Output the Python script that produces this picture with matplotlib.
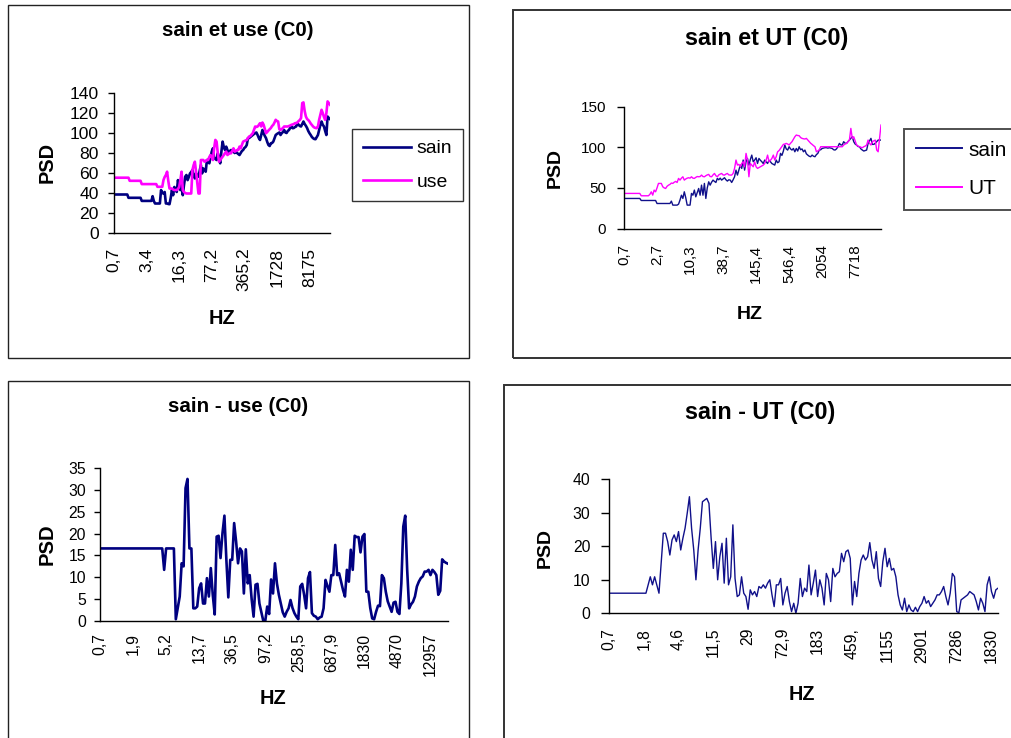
import matplotlib
matplotlib.use("Agg")
import matplotlib.pyplot as plt
from matplotlib.patches import Rectangle

plt.rcParams['font.family'] = ['Liberation Sans', 'DejaVu Sans']

W, H = 1011, 738

# ---------------- data ----------------
# Panel 1 : sain et use (C0)
p1_ticklabels = ["0,7", "3,4", "16,3", "77,2", "365,2", "1728", "8175"]
p1_sain = ([38.5] * 12 + [35.2] * 11 + [32.1] * 9 + [36.8, 32] + [29.5] * 5 +
           [42.9, 40, 39.5, 41, 29.5, 29.5, 29, 28.8, 35, 42.9, 37.8, 46.0, 43, 41.0, 52.9, 47, 42.9, 49.6, 37.8, 48,
            56.3, 58.0, 52.9, 56, 59.6, 61, 63.0, 58, 54.6, 59.6, 58, 56.3, 62, 68.0, 59.6, 64.6, 63, 61.3, 73.0, 71,
            69.7, 76, 81.4, 84.7, 74.7, 74, 73.0, 79.7, 75, 69.7, 81.4, 91.4, 86, 83.0, 86.4, 83, 80.4, 82, 83.0, 82,
            81.4, 80, 81.4, 80, 79, 78.0, 80, 82, 83.0, 85, 86, 88.0, 94.8, 95, 96, 97.1, 98, 99, 99.8, 100.5,
            98.0, 95, 93.0, 98.0, 103.0, 99.8, 97, 94.8, 91, 88.0, 87.0, 89.7, 90, 91.4, 94.8, 98.0, 99, 99.8, 100.5, 98.0,
            99.8, 101, 103.0, 100.5, 100, 102, 103.0, 105, 106.5, 104.8, 105, 106, 106.5, 109.8, 108.2, 107, 106.5, 109, 111.5, 109,
            107.2, 105, 102, 99.8, 98, 96, 94.8, 94, 93.8, 96, 98.0, 103.0, 108, 111.5, 108.2, 106.5, 102, 98.0, 116.5, 115,
            113.9])
p1_use = ([55.3] * 13 + [52.2] * 10 + [48.9] * 13 + [46.2] * 5 +
          [52.9, 56, 58, 61.3, 52, 44.5, 44.5, 44.5, 43.5, 42.9, 42.9, 43, 44, 46, 52.9, 61.3, 42.9, 41, 40,
           39.5, 39.5, 39.5, 39.5, 39.5, 63.0, 68, 71.3, 61.3, 50, 39.5, 39.5, 73.0, 73, 73.0, 71.3, 72, 73, 73.0, 76,
           78.0, 76, 73.0, 85, 93.1, 91.4, 80, 71.3, 73, 74.7, 76.4, 78, 80, 81.4, 78.0, 79, 80, 79.7, 82, 84.7,
           81.4, 82, 83, 83.0, 86.4, 84.7, 88, 91.4, 92, 92.5, 93.1, 95, 96.5, 97, 98.5, 99.8, 103, 106.5, 106, 106.5,
           108, 109.8, 106.5, 110.5, 108.2, 104, 99.8, 101, 102.5, 103.8, 105, 107, 108.2, 110.5, 113.2, 112, 111.5, 103.8, 103.0, 104,
           105, 106.5, 106.5, 106.5, 106.5, 107, 107.5, 108.2, 108.5, 109, 109.8, 110, 110.5, 112, 113, 114.9, 129.9, 130.6, 122, 116.5,
           114, 113, 111.5, 109.5, 108, 106.5, 105.5, 105, 104.8, 106.5, 113.2, 118, 123.2, 119.9, 116, 113.2, 119.9, 131.6, 130.0, 128.3])

# Panel 2 : sain et UT (C0)
p2_ticklabels = ["0,7", "2,7", "10,3", "38,7", "145,4", "546,4", "2054", "7718"]
p2_sain = ([37.0] * 12 + [34.5] * 11 + [30.8] * 10 + [33.7] + [28.8] * 4 +
           [30, 35.0, 41.0, 37.0, 45.2, 38, 28.8, 28.8, 28.8, 43.2, 41.0, 47.3, 39.0, 44, 49.3, 41.0, 53.4, 41.0, 55.5, 37.0,
            50, 57.5, 53.4, 57, 59.6, 58, 56.7, 61.7, 60, 62, 59.6, 61, 62.5, 60, 58.4, 60, 59.6, 56.7, 60, 63.7,
            71.9, 65.8, 72, 78.1, 74.0, 84.3, 71.9, 82.2, 86.3, 78.1, 85, 90.4, 82.2, 84.3, 87.1, 80.1, 86.3, 84, 82.2, 80,
            84.3, 82, 80.1, 84, 82.2, 80, 79, 78.1, 84.3, 81, 82.2, 92.5, 90, 95.4, 102.8, 98, 96.6, 100.7, 98, 96.6,
            98.6, 94.5, 98.6, 95.4, 100.7, 97, 98, 94.5, 96.6, 92, 90.4, 89, 88.4, 90.4, 89, 88.4, 91, 92.5, 96.6, 97,
            98.6, 99, 99.5, 99.5, 99, 99.5, 99, 98.6, 97, 96.6, 98, 100.7, 104.8, 103, 102.8, 106.9, 105, 104.8, 107, 108.9,
            111.0, 113.0, 106.9, 104, 102.8, 101, 100.7, 98, 96.6, 95.4, 96, 96.6, 104.8, 108, 111.0, 103.6, 103.6, 105, 106.9, 108.9,
            108.9, 108.9])
p2_ut = ([43.2] * 12 + [40.3] * 6 +
         [42.0, 45.2, 41.1, 47.3, 45.2, 50, 55.5, 55.5, 55.5, 51.4, 50, 49.3, 52, 53.4, 54.3, 56, 55.5, 57, 58, 56.7,
          61.7, 59.6, 62, 63.7, 59.6, 61, 62, 62.5, 62, 63.7, 62, 61.7, 63, 64, 63.7, 64, 65.8, 64, 63.7, 65,
          66, 66.6, 64, 63.7, 66, 67.8, 65, 63.7, 66, 67, 67.8, 66, 65.8, 67, 67.8, 66, 65.8, 65.8, 67.8, 74.0,
          84.3, 78.1, 79, 76.0, 80, 82.2, 76.0, 92.5, 84.3, 63.7, 80.1, 78, 76.0, 82.2, 76.0, 74.0, 75, 76.0, 77, 78.1,
          80, 84.3, 90.4, 82.2, 84, 86.3, 90.4, 84.3, 88.4, 94.5, 96, 98.6, 101, 103.6, 104, 104.8, 104, 102.8, 105, 106.9,
          110, 113.0, 115.1, 114.5, 114.3, 112, 111.0, 110.5, 110.2, 111.0, 109, 106.9, 105, 103.6, 102, 100.7, 94.5, 95.5, 96.6, 100.7,
          100.7, 100.7, 100.7, 100.7, 100.7, 100.7, 100.7, 100.7, 100.7, 100.7, 100.7, 100.7, 100.7, 100.7, 100.7, 102.8, 104, 104.8, 107,
          108.9, 123.3, 111.0, 113.0, 108, 102.8, 101.5, 100.7, 100, 99.5, 100.7, 101.5, 102.8, 108.9, 105, 102.8, 106.9, 108, 108.9, 96.6,
          94.5, 111.0, 127.4])

# Panel 3 : sain - use (C0)
p3_ticklabels = ["0,7", "1,9", "5,2", "13,7", "36,5", "97,2", "258,5", "687,9", "1830", "4870", "12957"]
p3_diff = ([16.6] * 33 + [11.7] + [16.6] * 5 +
           [0.4, 3, 5.6, 13.2, 12.5, 30.4, 32.5, 16.6, 16.6, 2.9, 2.9, 3.3, 7.5, 8.6, 4, 4, 9.8, 5.6, 12.1, 6,
            1.5, 19.3, 19.5, 14.4, 20.1, 24.1, 14, 5.4, 14, 14, 22.4, 18.2, 13.2, 16.6, 15.9, 6.3, 16.4, 8.6, 10.5, 5,
            1, 8.3, 8.5, 4, 2, 0, 0, 3.3, 1.6, 9.5, 6.3, 13.2, 8.6, 6, 4, 2, 1, 2.1, 2.9, 4.8,
            3, 1.8, 1, 0.4, 7.9, 8.5, 6, 2.9, 9.8, 11.2, 1.8, 1.2, 1, 0.4, 0.8, 1, 2.9, 9.4, 8, 6.7,
            10.5, 10.5, 17.4, 10.5, 10.9, 9, 7.1, 5.6, 11.7, 9, 16.3, 11.7, 19.5, 19.2, 19.2, 15.7, 19.3, 19.9, 6.7, 6.7,
            3, 0.6, 0.4, 2.1, 3.5, 3.4, 10.5, 9.8, 6.7, 4.5, 3.3, 2.1, 4.2, 4.4, 2.1, 1.6, 8.6, 21.6, 24.1, 11.7,
            2.9, 3.8, 4.4, 5.6, 7.9, 9, 9.8, 10.2, 11.3, 11.3, 11.7, 10.5, 11.7, 11.2, 10.5, 6, 6.9, 14.1, 13.6, 13.3,
            13.1])

# Panel 4 : sain - UT (C0)
p4_ticklabels = ["0,7", "1,8", "4,6", "11,5", "29", "72,9", "183", "459,", "1155", "2901", "7286", "1830"]
p4_diff = ([6.0] * 18 +
           [8.5, 10.9, 8.5, 10.9, 8.5, 6.0, 14.9, 23.9, 23.9, 21.4, 17.4, 21.9, 23.4, 21.4, 24.4, 18.9, 22.4, 25.4, 29.9, 34.8,
            25.4, 18.9, 10.0, 18.9, 25.4, 33.3, 33.8, 34.3, 32.8, 22.4, 13.4, 21.4, 10.0, 16.9, 20.9, 9.0, 22.4, 8.5, 10.9, 26.4,
            10.4, 5.0, 5.5, 10.9, 6.0, 5.0, 1.2, 7.0, 5.5, 6.5, 5.0, 8.0, 7.5, 8.5, 7.5, 9.0, 10.0, 5.5, 2.0, 8.5,
            8.5, 10.4, 2.5, 6.0, 8.0, 3.5, 0.5, 3.0, 0.0, 3.0, 10.4, 5.0, 7.5, 6.5, 14.4, 5.5, 9.0, 12.9, 5.0, 10.0,
            7.5, 2.5, 11.9, 10.0, 3.5, 13.4, 10.9, 11.9, 12.4, 17.9, 15.4, 18.4, 18.9, 16.4, 2.5, 9.5, 5.0, 11.9, 15.9, 17.4,
            15.9, 16.9, 21.1, 15.9, 13.4, 18.4, 10.4, 8.0, 15.4, 19.4, 13.9, 16.4, 12.9, 13.4, 10.9, 5.5, 2.5, 1.0, 4.5, 0.5,
            2.5, 1.0, 0.5, 1.8, 0.5, 2.0, 3.0, 5.0, 3.0, 3.8, 2.0, 3.0, 4.0, 5.5, 5.5, 6.5, 8.0, 5.0, 2.5, 6.0,
            11.9, 10.9, 0.5, 0.2, 4.0, 4.5, 5.0, 5.5, 6.5, 6.0, 5.5, 3.5, 1.0, 4.5, 3.0, 0.5, 8.5, 10.9, 6.5, 4.5,
            7.0, 7.5])

NAVY = "#000080"
MAGENTA = "#FF00FF"
N_CAT = 180

fig = plt.figure(figsize=(W / 100, H / 100), dpi=100)
fig.patch.set_facecolor("white")


def fx(px):
    return px / W


def fy(py):
    return 1 - py / H


def make_axes(x0, x1, ytop, ybot):
    return fig.add_axes([fx(x0), fy(ybot), (x1 - x0) / W, (ybot - ytop) / H])


def style(ax, step, labels, yticks, tsize, pad_x, pad_y, tlen):
    ax.set_xlim(0, N_CAT - 1)
    ax.set_ylim(yticks[0], yticks[-1])
    ax.set_yticks(yticks)
    ax.set_xticks([k * step for k in range(len(labels))])
    ax.set_xticklabels(labels, rotation=90)
    for s in ("top", "right"):
        ax.spines[s].set_visible(False)
    for s in ("left", "bottom"):
        ax.spines[s].set_linewidth(1.0)
        ax.spines[s].set_color("black")
    ax.tick_params(axis="x", length=0, pad=pad_x, labelsize=tsize)
    ax.tick_params(axis="y", length=tlen, width=1.0, pad=pad_y, labelsize=tsize, direction="out")
    ax.set_facecolor("none")


def series(ax, values, **kw):
    ax.plot(list(range(len(values))), values, **kw)


# chart area borders
for (x0, y0, x1, y1, lw, col) in [(8, 5, 469, 358, 1.0, "#222222"),
                                  (513, 10, 1030, 358, 1.4, "#333333"),
                                  (8, 381, 469, 760, 1.0, "#222222"),
                                  (504, 385, 1030, 760, 1.4, "#333333")]:
    fig.patches.append(Rectangle((fx(x0), fy(y1)), (x1 - x0) / W, (y1 - y0) / H,
                                 transform=fig.transFigure, fill=False,
                                 edgecolor=col, linewidth=lw))

# ---- panel 1
ax1 = make_axes(114, 330, 93, 233)
series(ax1, p1_sain, color=NAVY, lw=1.9, label="sain")
series(ax1, p1_use, color=MAGENTA, lw=1.9, label="use")
style(ax1, 27, p1_ticklabels, [0, 20, 40, 60, 80, 100, 120, 140], 12.6, 10.5, 6.5, 4.5)
leg1 = ax1.legend(loc="upper left", bbox_to_anchor=(fx(352), fy(129)), bbox_transform=fig.transFigure,
                  fontsize=13.9, frameon=True, fancybox=False, borderpad=0.56, handlelength=2.5,
                  handletextpad=0.28, labelspacing=0.82, borderaxespad=0)
leg1.get_frame().set_edgecolor("black")
leg1.get_frame().set_linewidth(1.0)
for l in leg1.get_lines():
    l.set_linewidth(1.9)

# ---- panel 2
ax2 = make_axes(624, 881, 106.7, 228.5)
series(ax2, p2_sain, color="#10108a", lw=1.0, label="sain")
series(ax2, p2_ut, color=MAGENTA, lw=1.0, label="UT")
style(ax2, 23, p2_ticklabels, [0, 50, 100, 150], 11.0, 11.5, 8.0, 5.0)
leg2 = ax2.legend(loc="upper left", bbox_to_anchor=(fx(904), fy(129)), bbox_transform=fig.transFigure,
                  fontsize=15, frameon=True, fancybox=False, borderpad=0.56, handlelength=2.2,
                  handletextpad=0.34, labelspacing=0.94, borderaxespad=0)
leg2.get_frame().set_edgecolor("#222222")
leg2.get_frame().set_linewidth(1.4)
for l in leg2.get_lines():
    l.set_linewidth(1.4)

# ---- panel 3
ax3 = make_axes(100, 448, 468, 621)
series(ax3, p3_diff, color=NAVY, lw=1.9)
style(ax3, 17, p3_ticklabels, [0, 5, 10, 15, 20, 25, 30, 35], 11.3, 8.5, 6.0, 4.0)

# ---- panel 4
ax4 = make_axes(609, 998, 479.3, 613.3)
series(ax4, p4_diff, color="#10108a", lw=1.0)
style(ax4, 16, p4_ticklabels, [0, 10, 20, 30, 40], 11.3, 10.5, 8.0, 5.5)

# ---- titles and axis labels
texts = [
    ("sain et use (C0)", 238, 31, 14.8, 0),
    ("PSD", 47, 162, 14.4, 90),
    ("HZ", 222, 318, 14.4, 0),
    ("sain et UT (C0)", 767, 38, 16.8, 0),
    ("PSD", 555, 168, 14.0, 90),
    ("HZ", 750, 315, 14.0, 0),
    ("sain - use (C0)", 238, 406, 14.8, 0),
    ("PSD", 47, 544, 14.6, 90),
    ("HZ", 273, 699, 14.4, 0),
    ("sain - UT (C0)", 760, 413, 16.8, 0),
    ("PSD", 545, 548, 14.0, 90),
    ("HZ", 802, 695, 14.2, 0),
]
for t, px, py, size, rot in texts:
    fig.text(fx(px), fy(py), t, fontsize=size, fontweight="bold", rotation=rot,
             ha="center", va="center")

fig.savefig("out.png", dpi=100, facecolor="white")
